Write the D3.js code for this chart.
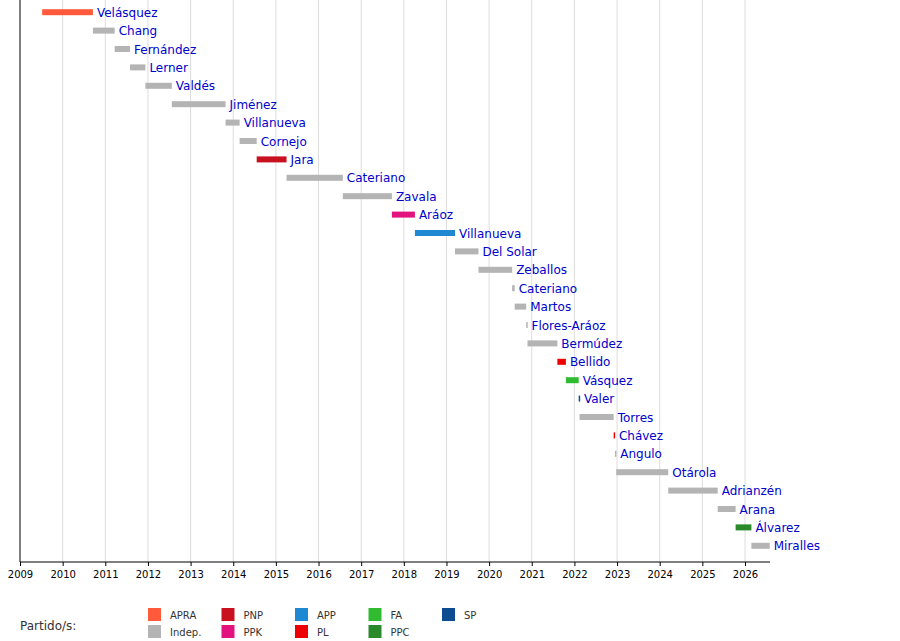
<!DOCTYPE html>
<html><head><meta charset="utf-8">
<script src="https://cdn.jsdelivr.net/npm/d3@7"></script>
<style>body{margin:0;background:#fff;font-family:"DejaVu Sans",sans-serif}</style>
</head><body>
<script>
// primeros ministros: nombre, inicio, fin, partido
const names = ["Velásquez","Chang","Fernández","Lerner","Valdés","Jiménez","Villanueva","Cornejo","Jara","Cateriano","Zavala","Aráoz","Villanueva","Del Solar","Zeballos","Cateriano","Martos","Flores-Aráoz","Bermúdez","Bellido","Vásquez","Valer","Torres","Chávez","Angulo","Otárola","Adrianzén","Arana","Álvarez","Miralles"];
const starts = [2009.52,2010.71,2011.22,2011.58,2011.94,2012.56,2013.82,2014.15,2014.55,2015.25,2016.57,2017.72,2018.26,2019.2,2019.75,2020.54,2020.6,2020.87,2020.9,2021.6,2021.8,2022.1,2022.12,2022.92,2022.95,2022.98,2024.2,2025.36,2025.78,2026.15];
const ends   = [2010.71,2011.22,2011.58,2011.94,2012.56,2013.82,2014.15,2014.55,2015.25,2016.57,2017.72,2018.26,2019.2,2019.75,2020.54,2020.6,2020.87,2020.9,2021.6,2021.8,2022.1,2022.13,2022.92,2022.95,2022.98,2024.2,2025.36,2025.78,2026.15,2026.58];
const parties = ["APRA","Indep.","Indep.","Indep.","Indep.","Indep.","Indep.","Indep.","PNP","Indep.","Indep.","PPK","APP","Indep.","Indep.","Indep.","Indep.","Indep.","Indep.","PL","FA","SP","Indep.","PL","Indep.","Indep.","Indep.","Indep.","PPC","Indep."];
const partyNames = ["APRA","Indep.","PNP","PPK","APP","PL","FA","PPC","SP"];
const partyColors = ["#ff5a3c","#b4b4b4","#c8101e","#e2137f","#1f88d2","#ee0000","#30bb30","#2a8a2a","#0e4c92"];
const years = d3.range(2009,2027);

const w=900,h=641;
const color = d3.scaleOrdinal().domain(partyNames).range(partyColors);
const x = d3.scaleLinear().domain([2009,2026]).range([20,745]);
const y = d3.scaleBand().domain(d3.range(names.length)).range([3,555]);

const svg = d3.select("body").append("svg").attr("width",w).attr("height",h);

// rejilla
svg.append("g").selectAll("line").data(years.slice(1)).enter().append("line")
  .attr("x1",d=>x(d)).attr("x2",d=>x(d)).attr("y1",0).attr("y2",562)
  .attr("stroke","#dddddd");

const rows = svg.append("g").selectAll("g").data(names).enter().append("g");
rows.append("rect")
  .attr("x",(d,i)=>x(starts[i]))
  .attr("width",(d,i)=>Math.max(1.5,x(ends[i])-x(starts[i])))
  .attr("y",(d,i)=>y(i)+y.bandwidth()/2-3)
  .attr("height",6)
  .attr("fill",(d,i)=>color(parties[i]));
rows.append("text")
  .attr("x",(d,i)=>x(ends[i])+4)
  .attr("y",(d,i)=>y(i)+y.bandwidth()/2+4.5)
  .attr("fill","#0000cc").style("font-size","12px")
  .text(d=>d);

// ejes
svg.append("line").attr("x1",20).attr("x2",20).attr("y1",0).attr("y2",562).attr("stroke","#000");
const xAxis = d3.axisBottom(x).tickValues(years).tickFormat(d3.format("d")).tickSize(4);
const ax = svg.append("g").attr("transform","translate(0,562)").call(xAxis);
ax.select(".domain").attr("d","M20,0H770");
ax.selectAll("text").style("font-size","10px").style("font-family","DejaVu Sans").attr("dy","0.9em");

// leyenda
svg.append("text").attr("x",20).attr("y",630).style("font-size","12px").attr("fill","#333").text("Partido/s:");
const lg = svg.append("g").selectAll("g").data(partyNames).enter().append("g")
  .attr("transform",(d,i)=>`translate(${148+Math.floor(i/2)*73.5},${i%2?625:608})`);
lg.append("rect").attr("width",13).attr("height",13).attr("fill",d=>color(d));
lg.append("text").attr("x",22).attr("y",11).style("font-size","10px").attr("fill","#333").text(d=>d);
</script>
</body></html>
